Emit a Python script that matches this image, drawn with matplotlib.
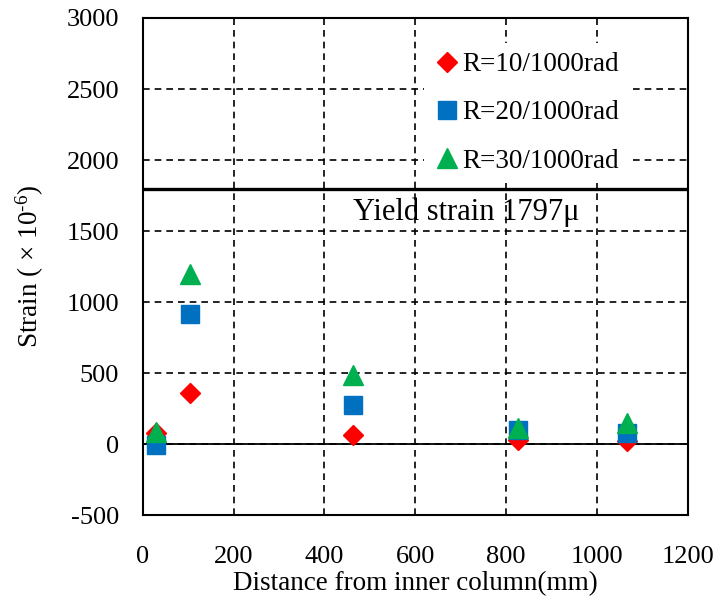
import matplotlib
matplotlib.use("Agg")
import matplotlib.pyplot as plt

# Strain measured along the beam flange at three story drift angles
distance_mm = [30, 103, 463, 826, 1066]
strain_r10 = [80, 360, 65, 30, 25]
strain_r20 = [-5, 920, 275, 100, 80]
strain_r30 = [90, 1200, 490, 115, 150]
yield_strain = 1797
series_labels = ["R=10/1000rad", "R=20/1000rad", "R=30/1000rad"]

plt.rcParams["font.family"] = ["Liberation Serif", "DejaVu Serif"]
plt.rcParams["mathtext.fontset"] = "custom"
plt.rcParams["mathtext.rm"] = "Liberation Serif"
plt.rcParams["mathtext.it"] = "Liberation Serif:italic"
plt.rcParams["axes.unicode_minus"] = False

fig = plt.figure(figsize=(7.21, 6.0), dpi=100)
ax = fig.add_axes([0.198, 0.141, 0.756, 0.829])

ax.plot(distance_mm, strain_r10, linestyle="none", marker="D", markersize=10,
        color="#FF0000", label=series_labels[0], zorder=3)
ax.plot(distance_mm, strain_r20, linestyle="none", marker="s", markersize=13,
        color="#0070C0", label=series_labels[1], zorder=3)
ax.plot(distance_mm, strain_r30, linestyle="none", marker="^", markersize=14,
        color="#00B050", label=series_labels[2], zorder=3)

ax.axhline(0, color="black", lw=1.3, zorder=2)
ax.axhline(yield_strain, color="black", lw=2.4, zorder=2)
ax.text(712, 1635, "Yield strain 1797\u03bc", fontsize=22, ha="center",
        va="center", zorder=4)

ax.set_xlim(0, 1200)
ax.set_ylim(-500, 3000)
ax.set_xticks(range(0, 1201, 200))
ax.set_yticks(range(-500, 3001, 500))
ax.grid(True, color="black", linestyle=(0, (4, 3)), lw=1.2)
ax.tick_params(length=0, labelsize=19)
ax.tick_params(axis="y", pad=17)
ax.tick_params(axis="x", pad=22)
for s in ax.spines.values():
    s.set_linewidth(1.5)
    s.set_color("black")

ax.set_xlabel("Distance from inner column(mm)", fontsize=19.5, labelpad=2)
ax.set_ylabel("Strain ( \u00d7 10$^{\\mathrm{\u2010}6}$)", fontsize=19.5, labelpad=15)

leg = ax.legend(loc="upper left", bbox_to_anchor=(0.491, 0.977), frameon=True,
                fontsize=19.5, handletextpad=0.05, handlelength=1.0,
                labelspacing=0.85, borderpad=0.35, fancybox=False)
leg.get_frame().set_edgecolor("none")
leg.get_frame().set_facecolor("white")
leg.get_frame().set_alpha(1)
leg.set_zorder(1.8)

fig.savefig("out.png", dpi=100)
